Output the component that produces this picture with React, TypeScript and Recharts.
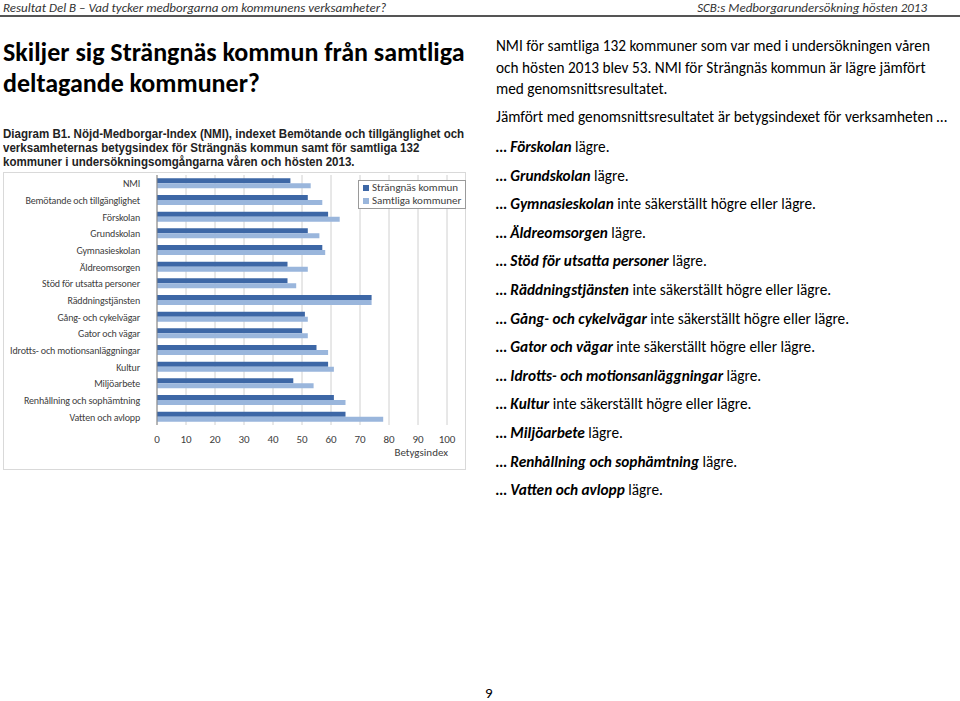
import React from 'react';
import { BarChart, Bar, XAxis, YAxis, CartesianGrid, Legend } from 'recharts';

const categories = [
  'NMI',
  'Bemötande och tillgänglighet',
  'Förskolan',
  'Grundskolan',
  'Gymnasieskolan',
  'Äldreomsorgen',
  'Stöd för utsatta personer',
  'Räddningstjänsten',
  'Gång- och cykelvägar',
  'Gator och vägar',
  'Idrotts- och motionsanläggningar',
  'Kultur',
  'Miljöarbete',
  'Renhållning och sophämtning',
  'Vatten och avlopp',
];
const strangnas = [46, 52, 59, 52, 57, 45, 45, 74, 51, 50, 55, 59, 47, 61, 65];
const samtliga = [53, 57, 63, 56, 58, 52, 48, 74, 52, 52, 59, 61, 54, 65, 78];
const xTicks = [0, 10, 20, 30, 40, 50, 60, 70, 80, 90, 100];

// right column: [bold part, rest]
const verdicts: [string, string][] = [
  ['Förskolan', ' lägre.'],
  ['Grundskolan', ' lägre.'],
  ['Gymnasieskolan', ' inte säkerställt högre eller lägre.'],
  ['Äldreomsorgen', ' lägre.'],
  ['Stöd för utsatta personer', ' lägre.'],
  ['Räddningstjänsten', ' inte säkerställt högre eller lägre.'],
  ['Gång- och cykelvägar', ' inte säkerställt högre eller lägre.'],
  ['Gator och vägar', ' inte säkerställt högre eller lägre.'],
  ['Idrotts- och motionsanläggningar', ' lägre.'],
  ['Kultur', ' inte säkerställt högre eller lägre.'],
  ['Miljöarbete', ' lägre.'],
  ['Renhållning och sophämtning', ' lägre.'],
  ['Vatten och avlopp', ' lägre.'],
];

const data = categories.map((name, i) => ({
  name,
  strangnas: strangnas[i],
  samtliga: samtliga[i],
}));

const DARK = '#3d67a6';
const LIGHT = '#9ab6dc';
const FONT = "Carlito, Lato, 'Open Sans', sans-serif";

const abs = (left: number, top: number, extra: React.CSSProperties = {}): React.CSSProperties => ({
  position: 'absolute',
  left,
  top,
  whiteSpace: 'nowrap',
  ...extra,
});

const CategoryTick = (props: any) => {
  const { x, y, payload } = props;
  return (
    <text x={x - 9} y={y} dy={4} textAnchor="end" fontSize={10} letterSpacing={-0.15} fill="#404040" fontFamily={FONT}>
      {payload.value}
    </text>
  );
};

const legendItems = [
  { label: 'Strängnäs kommun', color: DARK },
  { label: 'Samtliga kommuner', color: LIGHT },
];

const ChartLegend = () => (
  <div
    style={{
      background: '#fff',
      border: '1px solid #9a9a9a',
      padding: '1px 4px',
      fontSize: 11,
      lineHeight: '12.5px',
      color: '#404040',
      fontFamily: FONT,
    }}
  >
    {legendItems.map((it) => (
      <div key={it.label} style={{ display: 'flex', alignItems: 'center', whiteSpace: 'nowrap' }}>
        <span style={{ display: 'inline-block', width: 6, height: 6, background: it.color, marginRight: 3 }} />
        {it.label}
      </div>
    ))}
  </div>
);

const AxisTitle = (props: any) => {
  const vb = props.viewBox;
  return (
    <text x={vb.x + vb.width + 1} y={vb.y + 31} textAnchor="end" fontSize={11} fill="#404040" fontFamily={FONT}>
      Betygsindex
    </text>
  );
};

export default function App() {
  return (
    <div style={{ position: 'absolute', left: 0, top: 0, width: 960, height: 701, background: '#fff', fontFamily: FONT, color: '#000' }}>
      {/* page header */}
      <div style={abs(3, 0, { fontSize: 13, fontStyle: 'italic', color: '#333' })}>
        Resultat Del B – Vad tycker medborgarna om kommunens verksamheter?
      </div>
      <div style={abs(0, 0, { width: 927, textAlign: 'right', fontSize: 13, fontStyle: 'italic', color: '#333' })}>
        SCB:s Medborgarundersökning hösten 2013
      </div>
      <div style={abs(0, 15, { width: 960, height: 2, background: '#555' })} />

      {/* title */}
      <div style={abs(3, 37, { fontSize: 26, fontWeight: 'bold', lineHeight: '31px' })}>
        Skiljer sig Strängnäs kommun från samtliga
        <br />
        deltagande kommuner?
      </div>

      {/* caption */}
      <div
        style={abs(3, 127, {
          fontSize: 13,
          fontWeight: 'bold',
          lineHeight: '14px',
          fontFamily: "'Liberation Sans', Arial, sans-serif",
          color: '#222',
          transform: 'scaleX(0.888)',
          transformOrigin: 'left top',
        })}
      >
        Diagram B1. Nöjd-Medborgar-Index (NMI), indexet Bemötande och tillgänglighet och
        <br />
        verksamheternas betygsindex för Strängnäs kommun samt för samtliga 132
        <br />
        kommuner i undersökningsomgångarna våren och hösten 2013.
      </div>

      {/* chart */}
      <div style={abs(3, 172, { width: 463, height: 298, border: '1px solid #d9d9d9', boxSizing: 'border-box' })}>
        <BarChart
          width={461}
          height={296}
          data={data}
          layout="vertical"
          margin={{ top: 2, right: 18, bottom: 0, left: 0 }}
          barCategoryGap="20%"
          barGap={0}
        >
          <CartesianGrid horizontal={false} stroke="#d0d0d0" />
          <XAxis
            type="number"
            domain={[0, 100]}
            ticks={xTicks}
            interval={0}
            axisLine={false}
            tickLine={false}
            tick={{ fontSize: 11, fill: '#404040', fontFamily: FONT }}
            tickMargin={4}
            height={44}
            label={{ content: AxisTitle }}
          />
          <YAxis
            type="category"
            dataKey="name"
            width={153}
            axisLine={{ stroke: '#868686' }}
            tickLine={false}
            interval={0}
            tick={CategoryTick}
          />
          <Legend
            layout="horizontal"
            verticalAlign="middle"
            align="center"
            content={ChartLegend}
            wrapperStyle={{ top: 7, left: 354, width: 'auto' }}
          />
          <Bar dataKey="strangnas" name="Strängnäs kommun" fill={DARK} isAnimationActive={false} />
          <Bar dataKey="samtliga" name="Samtliga kommuner" fill={LIGHT} isAnimationActive={false} />
        </BarChart>
      </div>

      {/* right column */}
      <div style={abs(496, 35, { fontSize: 15.3, lineHeight: '21.5px' })}>
        NMI för samtliga 132 kommuner som var med i undersökningen våren
        <br />
        och hösten 2013 blev 53. NMI för Strängnäs kommun är lägre jämfört
        <br />
        med genomsnittsresultatet.
      </div>
      <div style={abs(496, 107, { fontSize: 15.3 })}>
        Jämfört med genomsnittsresultatet är betygsindexet för verksamheten …
      </div>
      {verdicts.map(([b, rest], i) => (
        <div key={b} style={abs(496, 137 + i * 28.6, { fontSize: 15.3 })}>
          <b>
            <i>… {b}</i>
          </b>
          {rest}
        </div>
      ))}

      <div style={abs(485, 684, { fontSize: 15 })}>9</div>
    </div>
  );
}
